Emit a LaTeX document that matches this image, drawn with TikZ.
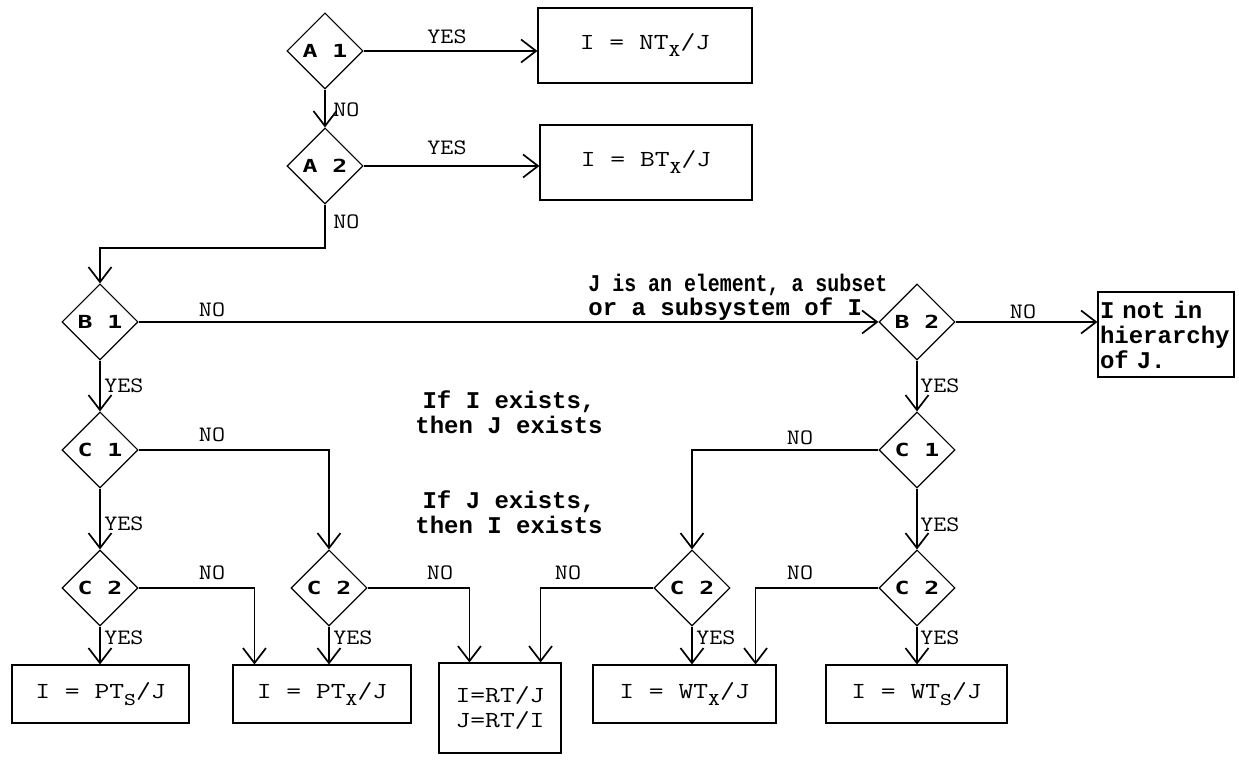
\documentclass[tikz,border=0pt]{standalone}
\usepackage{fontspec}
\usepackage{graphicx}
\usetikzlibrary{shapes.geometric,arrows.meta,calc}
\newfontfamily\bmono{Liberation Mono}
\newfontfamily\dmono{DejaVu Sans Mono}
\newcommand{\lab}[1]{{\fontsize{11}{11}\selectfont\ttfamily\scalebox{1.15}[1]{#1}}}
\newcommand{\boxt}[1]{{\fontsize{11.5}{11.5}\selectfont\ttfamily\scalebox{1.25}[1]{#1}}}
\newcommand{\dlab}[1]{{\fontsize{9}{9}\selectfont\dmono\bfseries\scalebox{1.38}[1]{#1}}}
\newcommand{\tsub}[1]{\raisebox{-3.5pt}{\fontsize{9}{9}\selectfont #1}}
\tikzset{
  dia/.style={diamond, draw, line width=0.55pt, inner sep=0pt, minimum width=38pt, minimum height=38pt, aspect=1},
  res/.style={draw, line width=0.55pt, inner sep=0pt},
  conn/.style={line width=0.85pt},
  arr/.style={conn, -{Straight Barb[length=7.5pt,width=11.5pt,line width=0.85pt]}},
  lbl/.style={inner sep=0pt},
  bigtxt/.style={inner sep=0pt, align=center, font={\fontsize{12}{12.5}\selectfont\bmono\bfseries}}
}
\begin{document}
\begin{tikzpicture}[x=0.5pt,y=-0.5pt]
\fill[white] (0,0) rectangle (1239,774);
\useasboundingbox (0,0) rectangle (1239,774);

% decisions
\node[dia] (A1) at (325,51) {\dlab{A 1}};
\node[dia] (A2) at (325,166) {\dlab{A 2}};
\node[dia] (B1) at (100,322) {\dlab{B 1}};
\node[dia] (B2) at (917,322) {\dlab{B 2}};
\node[dia] (C1) at (100,450) {\dlab{C 1}};
\node[dia] (C1r) at (917,450) {\dlab{C 1}};
\node[dia] (C2a) at (100,588) {\dlab{C 2}};
\node[dia] (C2b) at (329,588) {\dlab{C 2}};
\node[dia] (C2c) at (692,588) {\dlab{C 2}};
\node[dia] (C2d) at (917,588) {\dlab{C 2}};

% results
\node[res, minimum width=107pt, minimum height=37.5pt] (NT) at (645,45.5) {\boxt{I = NT\tsub{X}/J}};
\node[res, minimum width=106pt, minimum height=37.5pt] (BT) at (646,162.5) {\boxt{I = BT\tsub{X}/J}};
\node[res, text width=66pt, inner xsep=1pt, minimum height=42.5pt, align=left,
      font={\fontsize{12}{12.5}\selectfont\bmono\bfseries}] (NH) at (1166,334.5) {I not in\\hierarchy\\of J.};
\node[res, minimum width=88.5pt, minimum height=29pt] (PTs) at (100.5,694) {\boxt{I = PT\tsub{S}/J}};
\node[res, minimum width=89pt, minimum height=29pt] (PTx) at (322,694) {\boxt{I = PT\tsub{X}/J}};
\node[res, minimum width=61pt, minimum height=45pt, align=center,
      font={\fontsize{11.5}{12.5}\selectfont}] (RT) at (500,708) {\boxt{I=RT/J}\\\boxt{J=RT/I}};
\node[res, minimum width=91.5pt, minimum height=29pt] (WTx) at (684.5,694) {\boxt{I = WT\tsub{X}/J}};
\node[res, minimum width=90.5pt, minimum height=29pt] (WTs) at (916.5,694) {\boxt{I = WT\tsub{S}/J}};

% free texts
\node[lbl, anchor=west, align=left, font={\fontsize{12}{9.5}\selectfont\bmono\bfseries}] (T1) at (588,297)
  {\scalebox{0.83}[1]{J is an element, a subset}\\or a subsystem of I};
\node[bigtxt] (E1) at (509,412) {If I exists,\\then J exists};
\node[bigtxt] (E2) at (509,512) {If J exists,\\then I exists};

% entry points
\coordinate (jA) at (100,248);
\coordinate (PTxL) at ($(PTx.north west)+(22,0)$);
\coordinate (RTL) at ($(RT.north west)+(31,0)$);
\coordinate (RTR) at ($(RT.north east)+(-21,0)$);
\coordinate (WTxR) at ($(WTx.north east)+(-21,0)$);

% connectors
\draw[arr] (A1.east) -- (A1.east -| NT.west);
\draw[arr] (A1.south) -- (A2.north);
\draw[arr] (A2.east) -- (A2.east -| BT.west);
\draw[arr] (A2.south) |- (jA) -- (B1.north);
\draw[arr] (B1.east) -- (B2.west);
\draw[arr] (B2.east) -- (B2.east -| NH.west);
\draw[arr] (B1.south) -- (C1.north);
\draw[arr] (B2.south) -- (C1r.north);
\draw[arr] (C1.east) -| (C2b.north);
\draw[arr] (C1.south) -- (C2a.north);
\draw[arr] (C1r.west) -| (C2c.north);
\draw[arr] (C1r.south) -- (C2d.north);
\draw[arr] (C2a.east) -| (PTxL);
\draw[arr] (C2a.south) -- (C2a.south |- PTs.north);
\draw[arr] (C2b.east) -| (RTL);
\draw[arr] (C2b.south) -- (C2b.south |- PTx.north);
\draw[arr] (C2c.west) -| (RTR);
\draw[arr] (C2c.south) -- (C2c.south |- WTx.north);
\draw[arr] (C2d.west) -| (WTxR);
\draw[arr] (C2d.south) -- (C2d.south |- WTs.north);

% connector labels
\node[lbl] (l1) at (447,37) {\lab{YES}};
\node[lbl, anchor=west] (l2) at (333,110) {\lab{NO}};
\node[lbl] (l3) at (447,148) {\lab{YES}};
\node[lbl, anchor=west] (l4) at (333,222) {\lab{NO}};
\node[lbl] (l5) at (212,310) {\lab{NO}};
\node[lbl] (l6) at (1023,312) {\lab{NO}};
\node[lbl, anchor=west] (l7) at (104,386) {\lab{YES}};
\node[lbl, anchor=west] (l8) at (920,386) {\lab{YES}};
\node[lbl] (l9) at (212,435) {\lab{NO}};
\node[lbl] (l10) at (800,438) {\lab{NO}};
\node[lbl, anchor=west] (l11) at (104,524) {\lab{YES}};
\node[lbl, anchor=west] (l12) at (920,525) {\lab{YES}};
\node[lbl] (l13) at (212,573) {\lab{NO}};
\node[lbl] (l14) at (440,573) {\lab{NO}};
\node[lbl] (l15) at (568,573) {\lab{NO}};
\node[lbl] (l16) at (800,573) {\lab{NO}};
\node[lbl, anchor=west] (l17) at (104,638) {\lab{YES}};
\node[lbl, anchor=west] (l18) at (333,638) {\lab{YES}};
\node[lbl, anchor=west] (l19) at (696,638) {\lab{YES}};
\node[lbl, anchor=west] (l20) at (920,638) {\lab{YES}};
\end{tikzpicture}
\end{document}
